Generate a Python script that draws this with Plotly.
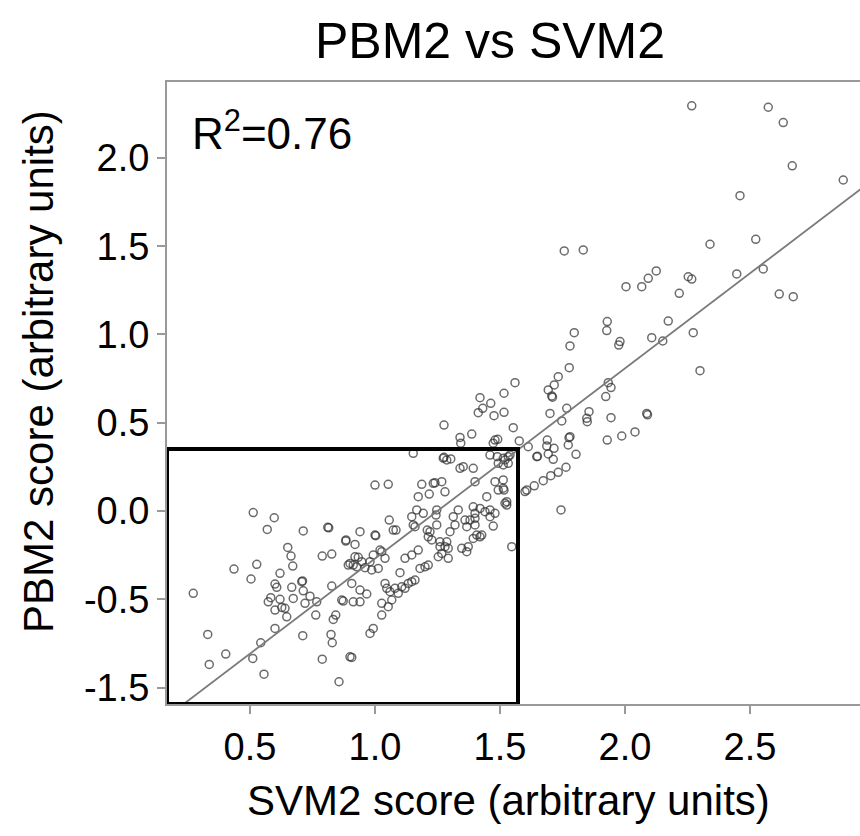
import plotly.graph_objects as go

# ---------------- data ----------------
svm2 = [
    2.267, 2.573, 2.633, 2.669, 2.873, 2.46, 2.34, 2.523, 2.553, 2.447, 2.253, 2.267, 2.217, 2.125, 2.093,
    2.067, 2.617, 2.673, 2.173, 2.107, 2.151, 2.273, 2.30,
    1.757, 1.833, 2.004, 1.929, 1.927, 1.797, 1.98, 1.975, 1.78, 1.777, 1.733, 1.717, 1.693, 1.707, 1.71,
    1.933, 1.944, 1.923, 1.70, 1.767, 1.747, 1.847, 1.856, 1.849, 1.944, 2.087, 2.09, 1.78, 1.987, 2.04, 1.929,
    1.56, 1.516, 1.516, 1.553, 1.577, 1.613, 1.776, 1.773, 1.689, 1.687, 1.716, 1.693, 1.713, 1.647, 1.65, 1.804,
    1.764, 1.733, 1.703, 1.673, 1.637, 1.607, 1.60, 1.744,
    1.533, 1.513, 1.516, 1.52, 1.527, 1.547,
    1.42, 1.463, 1.431, 1.413, 1.476, 1.276, 1.387, 1.34, 1.343, 1.48, 1.491, 1.473, 1.276, 1.303, 1.46, 1.489,
    1.513, 1.533, 1.353, 1.393,
    1.52, 1.54, 1.34, 1.493, 1.513, 1.267, 1.28, 1.40, 1.48, 1.493, 1.513, 1.447, 1.527, 1.333, 1.393, 1.42,
    1.40, 1.44, 1.46, 1.48, 1.46, 1.473, 1.313, 1.32, 1.30, 1.36, 1.367, 1.38, 1.40, 1.40, 1.407, 1.427, 1.393,
    1.287, 1.293, 1.28, 1.347, 1.373, 1.367, 1.267, 1.293, 1.42,
    1.0, 1.053, 1.187, 1.233, 1.24, 1.173, 1.217, 1.167, 1.193, 1.147, 1.247, 1.244, 1.057, 1.153, 1.16, 1.073,
    1.084, 1.209, 1.22, 1.213, 1.247, 0.94, 0.884, 0.92, 1.0, 1.003, 1.02, 1.027, 1.04, 0.993, 0.98, 0.92,
    0.933, 0.947, 0.893, 0.913, 0.927, 0.96, 0.987, 1.013, 1.227, 1.26, 1.26, 1.12, 1.147, 1.173, 1.20, 1.213,
    1.10, 1.18, 1.133, 1.147, 1.16, 1.04, 1.047, 1.06, 1.08, 1.093, 1.107, 1.12, 0.907, 0.94, 0.967, 0.867,
    0.873, 0.913, 0.94, 1.027, 1.053, 1.027, 1.067, 0.993, 0.98, 1.253, 1.153, 1.273, 1.287,
    0.513, 0.597, 0.569, 0.713, 0.811, 0.815, 0.883, 0.651, 0.664, 0.671, 0.789, 0.827, 0.436, 0.527, 0.504,
    0.62, 0.707, 0.71, 0.60, 0.607, 0.667, 0.713, 0.74, 0.827, 0.583, 0.573, 0.62, 0.673, 0.72, 0.60, 0.64,
    0.627, 0.647, 0.767, 0.763, 0.843, 0.833, 0.273, 0.60, 0.331, 0.543, 0.711, 0.824, 0.829, 0.403, 0.337,
    0.511, 0.789, 0.556, 0.856, 0.90, 0.90, 0.907,
]
pbm2 = [
    2.295, 2.287, 2.20, 1.955, 1.875, 1.786, 1.511, 1.539, 1.371, 1.343, 1.327, 1.314, 1.233, 1.36, 1.318,
    1.271, 1.229, 1.214, 1.076, 0.982, 0.963, 1.01, 0.795,
    1.473, 1.479, 1.271, 1.073, 1.022, 1.01, 0.96, 0.94, 0.935, 0.812, 0.761, 0.714, 0.686, 0.652, 0.645,
    0.727, 0.699, 0.648, 0.553, 0.582, 0.51, 0.525, 0.563, 0.506, 0.529, 0.553, 0.545, 0.421, 0.425, 0.448, 0.402,
    0.727, 0.667, 0.559, 0.472, 0.397, 0.364, 0.415, 0.374, 0.402, 0.368, 0.355, 0.323, 0.293, 0.308, 0.31, 0.321,
    0.248, 0.219, 0.20, 0.172, 0.143, 0.119, 0.11, 0.006,
    0.27, 0.176, 0.119, 0.044, 0.034, -0.202,
    0.642, 0.61, 0.582, 0.557, 0.54, 0.487, 0.436, 0.417, 0.384, 0.402, 0.406, 0.384, 0.304, 0.295, 0.317, 0.308,
    0.299, 0.308, 0.251, 0.242,
    0.289, 0.317, 0.242, 0.27, 0.261, 0.166, 0.109, 0.166, 0.166, 0.119, 0.129, 0.081, 0.053, 0.006, 0.024, 0.015,
    -0.013, -0.004, 0.006, -0.013, -0.032, -0.085, -0.032, -0.079, -0.117, -0.051, -0.089, -0.051, -0.041, -0.079,
    -0.136, -0.136, -0.155,
    -0.174, -0.211, -0.202, -0.211, -0.202, -0.23, -0.24, -0.268, -0.146,
    0.147, 0.151, 0.151, 0.157, 0.16, 0.081, 0.096, 0.006, -0.013, -0.032, 0.006, -0.023, -0.051, -0.079, -0.089,
    -0.108, -0.108, -0.108, -0.117, -0.146, -0.079, -0.117, -0.164, -0.189, -0.136, -0.14, -0.221, -0.23, -0.268,
    -0.249, -0.287, -0.259, -0.262, -0.287, -0.306, -0.306, -0.316, -0.321, -0.334, -0.325, -0.164, -0.174, -0.202,
    -0.268, -0.249, -0.221, -0.316, -0.306, -0.349, -0.325, -0.41, -0.40, -0.391, -0.41, -0.438, -0.457, -0.438,
    -0.466, -0.429, -0.438, -0.41, -0.448, -0.47, -0.504, -0.51, -0.514, -0.514, -0.523, -0.542, -0.589, -0.504,
    -0.665, -0.693, -0.259, 0.327, 0.299, 0.289,
    -0.009, -0.038, -0.104, -0.113, -0.092, -0.095, -0.17, -0.206, -0.255, -0.312, -0.255, -0.244, -0.329, -0.302,
    -0.385, -0.353, -0.40, -0.396, -0.414, -0.432, -0.432, -0.452, -0.482, -0.425, -0.491, -0.514, -0.50, -0.495,
    -0.523, -0.561, -0.551, -0.546, -0.599, -0.514, -0.589, -0.589, -0.614, -0.466, -0.665, -0.699, -0.746,
    -0.706, -0.699, -0.746, -0.81, -0.869, -0.835, -0.839, -0.924, -0.967, -0.297, -0.826, -0.829,
]

# regression line (slope, intercept) and R^2
fit_slope = 1.077
fit_intercept = -1.346
fit_x = [0.17, 2.95]
r_squared = "0.76"

# y tick positions and the labels printed in the original figure
y_tickvals = [-1.0, -0.5, 0.0, 0.5, 1.0, 1.5, 2.0]
y_ticktext = ["-1.5", "-0.5", "0.0", "0.5", "1.0", "1.5", "2.0"]
x_tickvals = [0.5, 1.0, 1.5, 2.0, 2.5]
x_ticktext = ["0.5", "1.0", "1.5", "2.0", "2.5"]

# highlighted region (data units)
box_x = [0.168, 1.572]
box_y = [-1.093, 0.351]

x_range = [0.168, 2.94]
y_range = [-1.093, 2.43]

FONT = "Liberation Sans, Arial, Helvetica, sans-serif"

fig = go.Figure()
fig.add_trace(go.Scatter(
    x=svm2, y=pbm2, mode="markers",
    marker=dict(symbol="circle-open", size=8, color="rgba(50,50,50,0.72)",
                line=dict(width=1.5, color="rgba(50,50,50,0.72)")),
    showlegend=False, hoverinfo="skip"))
fig.add_trace(go.Scatter(
    x=fit_x, y=[fit_slope * v + fit_intercept for v in fit_x], mode="lines",
    line=dict(color="#7a7a7a", width=1.8), showlegend=False, hoverinfo="skip"))

fig.add_shape(type="rect", xref="x", yref="y",
              x0=box_x[0], x1=box_x[1], y0=box_y[0], y1=box_y[1],
              line=dict(color="black", width=4), fillcolor="rgba(0,0,0,0)")

fig.update_layout(
    width=860, height=836,
    margin=dict(l=167, r=0, t=82, b=132),
    paper_bgcolor="white", plot_bgcolor="white",
    font=dict(family=FONT, color="black"),
    title=dict(text="PBM2 vs SVM2", font=dict(size=50, family=FONT, color="black"),
               x=490 / 860, xref="container", xanchor="center",
               y=1 - 40 / 836, yref="container", yanchor="middle"),
    xaxis=dict(range=x_range, tickvals=x_tickvals, ticktext=x_ticktext,
               showgrid=False, zeroline=False, showline=True, mirror=True,
               linecolor="#999999", linewidth=2, ticks="outside", ticklen=8,
               tickcolor="#999999", tickwidth=1.5,
               tickfont=dict(size=38, family=FONT, color="black")),
    yaxis=dict(range=y_range, tickvals=y_tickvals, ticktext=y_ticktext,
               showgrid=False, zeroline=False, showline=True, mirror=False,
               linecolor="#999999", linewidth=2, ticks="outside", ticklen=8,
               tickcolor="#999999", tickwidth=1.5,
               tickfont=dict(size=38, family=FONT, color="black")),
    annotations=[
        dict(text="R<sup>2</sup>=" + r_squared, xref="paper", yref="paper",
             x=(190 - 167) / 693, y=(704 - 130) / 622, xanchor="left", yanchor="middle",
             showarrow=False, font=dict(size=44, family=FONT, color="black")),
        dict(text="SVM2 score (arbitrary units)", xref="paper", yref="paper",
             x=(508 - 167) / 693, y=(704 - 800) / 622, xanchor="center", yanchor="middle",
             showarrow=False, font=dict(size=42, family=FONT, color="black")),
        dict(text="PBM2 score (arbitrary units)", xref="paper", yref="paper",
             x=(38 - 167) / 693, y=(704 - 372) / 622, xanchor="center", yanchor="middle",
             textangle=-90, showarrow=False, font=dict(size=42, family=FONT, color="black")),
    ],
)

fig.write_html("out.html")
